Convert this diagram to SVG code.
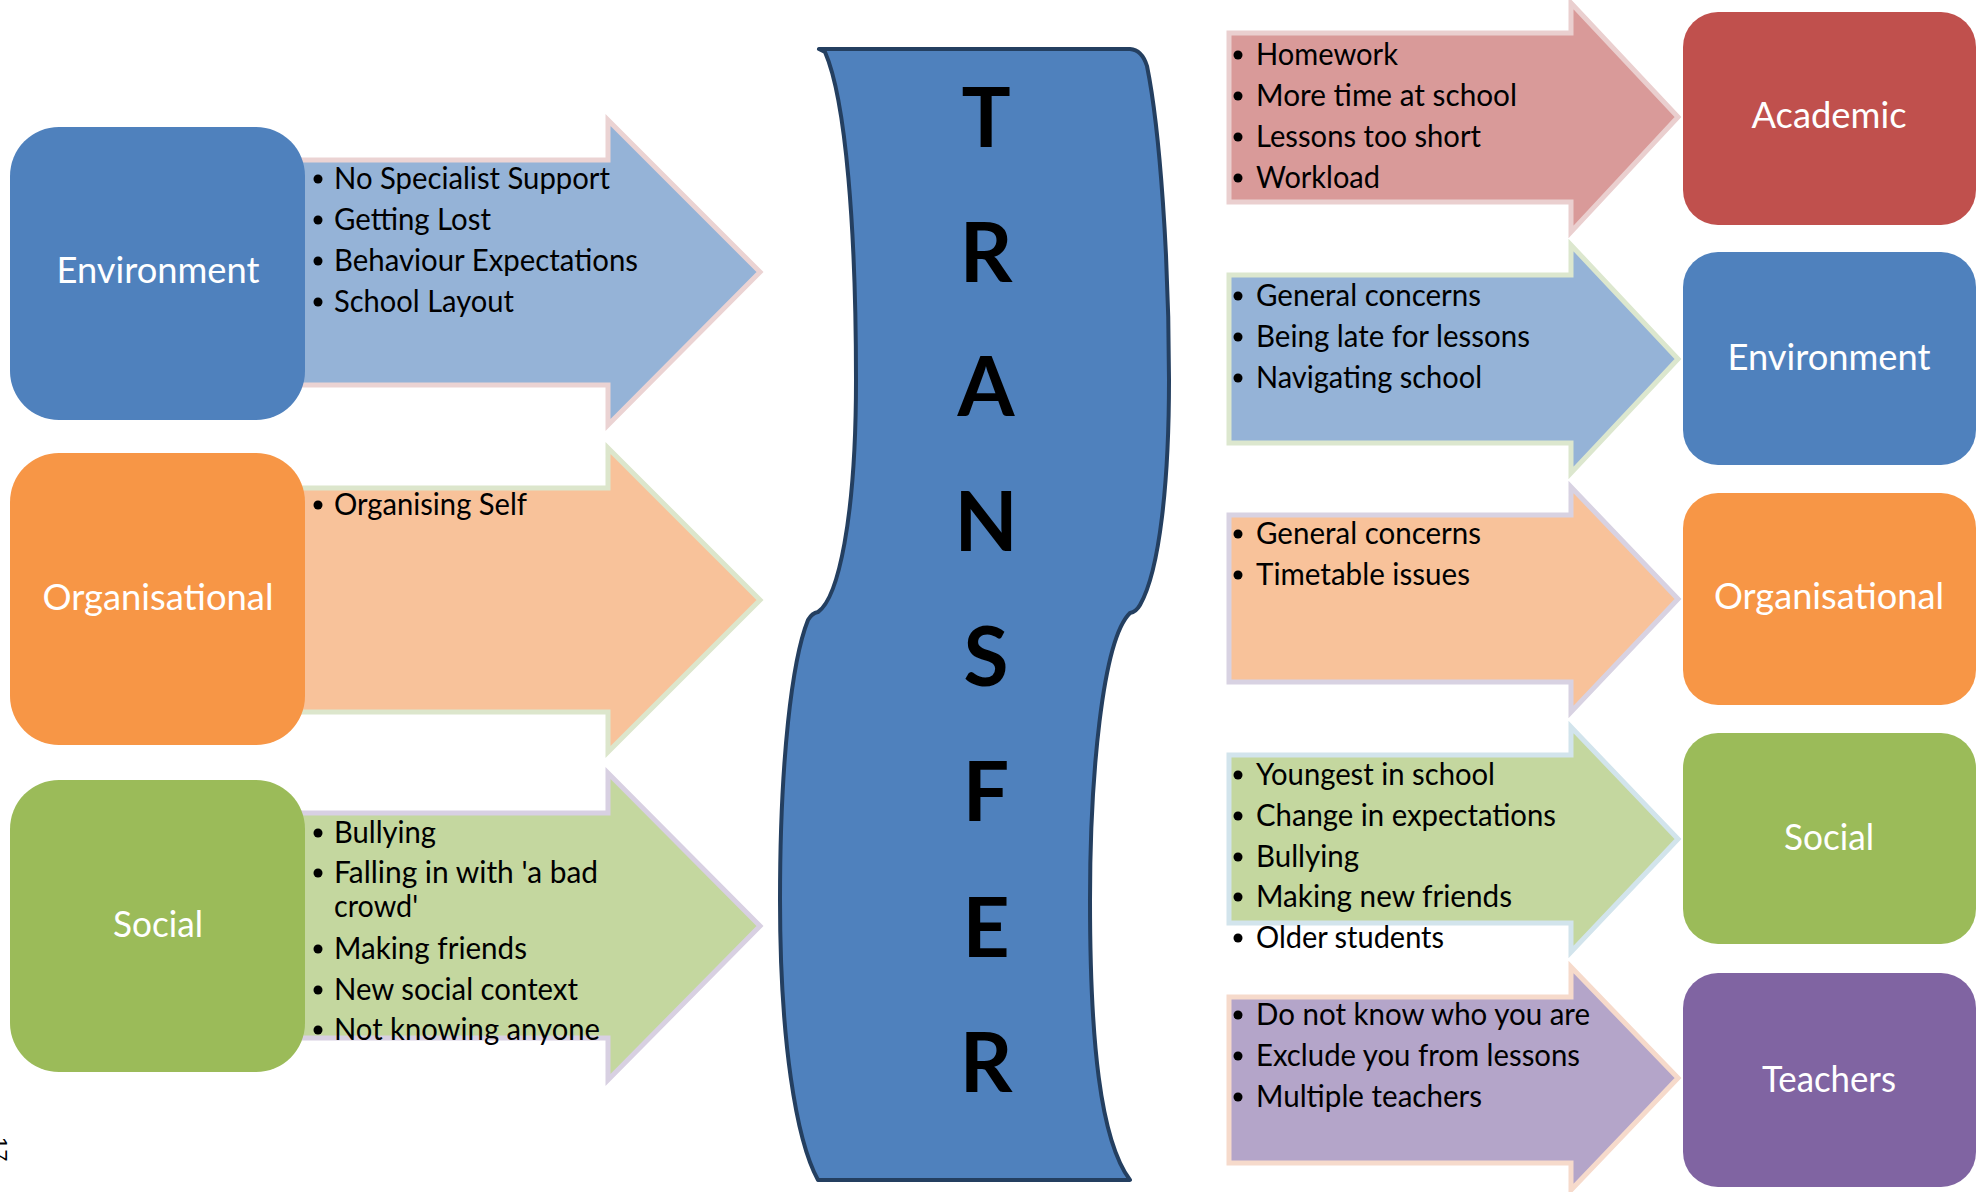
<svg xmlns="http://www.w3.org/2000/svg" width="1977" height="1192" viewBox="0 0 1977 1192">
<style>
.lbl{font-family:Lato,"Liberation Sans",sans-serif;font-size:36px;fill:#FFFFFF;text-anchor:middle}
.bt{font-family:Lato,"Liberation Sans",sans-serif;font-size:30px;fill:#000000}
.big{font-family:Lato,"Liberation Sans",sans-serif;font-size:82px;font-weight:bold;fill:#000000;text-anchor:middle}
.dot{fill:#000000}
.arr{stroke-width:5;stroke-linejoin:miter}
</style>
<rect x="0" y="0" width="1977" height="1192" fill="#FFFFFF"/>

<!-- Left arrows -->
<g id="arrow-left-environment">
<polygon class="arr" points="298,160 608,160 608,120 760,272 608,425 608,385 298,385" fill="#95B3D7" stroke="#EBD3D3"/>
<circle class="dot" cx="318" cy="179" r="4.5"/><text class="bt" x="334" y="189" textLength="276" lengthAdjust="spacingAndGlyphs">No Specialist Support</text>
<circle class="dot" cx="318" cy="220" r="4.5"/><text class="bt" x="334" y="230" textLength="157" lengthAdjust="spacingAndGlyphs">Getting Lost</text>
<circle class="dot" cx="318" cy="261" r="4.5"/><text class="bt" x="334" y="271" textLength="304" lengthAdjust="spacingAndGlyphs">Behaviour Expectations</text>
<circle class="dot" cx="318" cy="302" r="4.5"/><text class="bt" x="334" y="312" textLength="180" lengthAdjust="spacingAndGlyphs">School Layout</text>
</g>
<g id="arrow-left-organisational">
<polygon class="arr" points="298,488 608,488 608,448 760,600 608,752 608,712 298,712" fill="#F8C29A" stroke="#DCE6CC"/>
<circle class="dot" cx="318" cy="505" r="4.5"/><text class="bt" x="334" y="515" textLength="193" lengthAdjust="spacingAndGlyphs">Organising Self</text>
</g>
<g id="arrow-left-social">
<polygon class="arr" points="298,813 608,813 608,773 760,926 608,1080 608,1038 298,1038" fill="#C4D79F" stroke="#D8D0E2"/>
<circle class="dot" cx="318" cy="833" r="4.5"/><text class="bt" x="334" y="843" textLength="102" lengthAdjust="spacingAndGlyphs">Bullying</text>
<circle class="dot" cx="318" cy="873" r="4.5"/><text class="bt" x="334" y="883" textLength="264" lengthAdjust="spacingAndGlyphs">Falling in with 'a bad</text>
<text class="bt" x="334" y="917" textLength="84" lengthAdjust="spacingAndGlyphs">crowd'</text>
<circle class="dot" cx="318" cy="949" r="4.5"/><text class="bt" x="334" y="959" textLength="193" lengthAdjust="spacingAndGlyphs">Making friends</text>
<circle class="dot" cx="318" cy="990" r="4.5"/><text class="bt" x="334" y="1000" textLength="244" lengthAdjust="spacingAndGlyphs">New social context</text>
<circle class="dot" cx="318" cy="1030" r="4.5"/><text class="bt" x="334" y="1040" textLength="266" lengthAdjust="spacingAndGlyphs">Not knowing anyone</text>
</g>

<!-- Left boxes -->
<g id="box-left-environment">
<rect x="10" y="127" width="295" height="293" rx="49" fill="#4F81BD"/>
<text class="lbl" x="158" y="283" textLength="203" lengthAdjust="spacingAndGlyphs">Environment</text>
</g>
<g id="box-left-organisational">
<rect x="10" y="453" width="295" height="292" rx="49" fill="#F79646"/>
<text class="lbl" x="158" y="610" textLength="231" lengthAdjust="spacingAndGlyphs">Organisational</text>
</g>
<g id="box-left-social">
<rect x="10" y="780" width="295" height="292" rx="49" fill="#9BBB59"/>
<text class="lbl" x="158" y="937" textLength="90" lengthAdjust="spacingAndGlyphs">Social</text>
</g>

<!-- Centre scroll -->
<g id="transfer">
<path d="M 819,49 L 1130,49 Q 1142,50 1147,66 C 1160,130 1169,260 1169,380 C 1169,480 1160,570 1140,605 Q 1136,612 1130,613 C 1102,640 1090,780 1090,900 C 1090,1040 1100,1140 1130,1180 L 818,1180 C 796,1140 780,1040 780,900 C 780,760 792,660 808,620 Q 812,613 818,612 C 838,598 856,520 856,380 C 856,230 846,100 825,52 Z" fill="#4F81BD" stroke="#243F60" stroke-width="4" stroke-linejoin="round"/>
<text class="big" x="986" y="147">T</text>
<text class="big" x="986" y="282">R</text>
<text class="big" x="986" y="416">A</text>
<text class="big" x="986" y="551">N</text>
<text class="big" x="986" y="686">S</text>
<text class="big" x="986" y="821">F</text>
<text class="big" x="986" y="957">E</text>
<text class="big" x="986" y="1092">R</text>
</g>

<!-- Right arrows -->
<g id="arrow-right-academic">
<polygon class="arr" points="1229,33 1571,33 1571,3 1678,117 1571,232 1571,202 1229,202" fill="#D99A99" stroke="#EACFCF"/>
<circle class="dot" cx="1238" cy="55" r="4.5"/><text class="bt" x="1256" y="65" textLength="142" lengthAdjust="spacingAndGlyphs">Homework</text>
<circle class="dot" cx="1238" cy="96" r="4.5"/><text class="bt" x="1256" y="106" textLength="261" lengthAdjust="spacingAndGlyphs">More time at school</text>
<circle class="dot" cx="1238" cy="137" r="4.5"/><text class="bt" x="1256" y="147" textLength="225" lengthAdjust="spacingAndGlyphs">Lessons too short</text>
<circle class="dot" cx="1238" cy="178" r="4.5"/><text class="bt" x="1256" y="188" textLength="124" lengthAdjust="spacingAndGlyphs">Workload</text>
</g>
<g id="arrow-right-environment">
<polygon class="arr" points="1229,275 1571,275 1571,245 1678,359 1571,473 1571,443 1229,443" fill="#95B3D7" stroke="#DCE7CE"/>
<circle class="dot" cx="1238" cy="296" r="4.5"/><text class="bt" x="1256" y="306" textLength="225" lengthAdjust="spacingAndGlyphs">General concerns</text>
<circle class="dot" cx="1238" cy="337" r="4.5"/><text class="bt" x="1256" y="347" textLength="274" lengthAdjust="spacingAndGlyphs">Being late for lessons</text>
<circle class="dot" cx="1238" cy="378" r="4.5"/><text class="bt" x="1256" y="388" textLength="226" lengthAdjust="spacingAndGlyphs">Navigating school</text>
</g>
<g id="arrow-right-organisational">
<polygon class="arr" points="1229,515 1571,515 1571,487 1678,599 1571,712 1571,682 1229,682" fill="#F8C29A" stroke="#D8D2E2"/>
<circle class="dot" cx="1238" cy="534" r="4.5"/><text class="bt" x="1256" y="544" textLength="225" lengthAdjust="spacingAndGlyphs">General concerns</text>
<circle class="dot" cx="1238" cy="575" r="4.5"/><text class="bt" x="1256" y="585" textLength="214" lengthAdjust="spacingAndGlyphs">Timetable issues</text>
</g>
<g id="arrow-right-social">
<polygon class="arr" points="1229,755 1571,755 1571,727 1678,839 1571,952 1571,923 1229,923" fill="#C4D79F" stroke="#D2E4EC"/>
<circle class="dot" cx="1238" cy="775" r="4.5"/><text class="bt" x="1256" y="785" textLength="239" lengthAdjust="spacingAndGlyphs">Youngest in school</text>
<circle class="dot" cx="1238" cy="816" r="4.5"/><text class="bt" x="1256" y="826" textLength="300" lengthAdjust="spacingAndGlyphs">Change in expectations</text>
<circle class="dot" cx="1238" cy="857" r="4.5"/><text class="bt" x="1256" y="867" textLength="103" lengthAdjust="spacingAndGlyphs">Bullying</text>
<circle class="dot" cx="1238" cy="897" r="4.5"/><text class="bt" x="1256" y="907" textLength="256" lengthAdjust="spacingAndGlyphs">Making new friends</text>
<circle class="dot" cx="1238" cy="938" r="4.5"/><text class="bt" x="1256" y="948" textLength="188" lengthAdjust="spacingAndGlyphs">Older students</text>
</g>
<g id="arrow-right-teachers">
<polygon class="arr" points="1229,997 1571,997 1571,967 1678,1078 1571,1190 1571,1163 1229,1163" fill="#B4A5C9" stroke="#F6DACB"/>
<circle class="dot" cx="1238" cy="1015" r="4.5"/><text class="bt" x="1256" y="1025" textLength="334" lengthAdjust="spacingAndGlyphs">Do not know who you are</text>
<circle class="dot" cx="1238" cy="1056" r="4.5"/><text class="bt" x="1256" y="1066" textLength="324" lengthAdjust="spacingAndGlyphs">Exclude you from lessons</text>
<circle class="dot" cx="1238" cy="1097" r="4.5"/><text class="bt" x="1256" y="1107" textLength="226" lengthAdjust="spacingAndGlyphs">Multiple teachers</text>
</g>

<!-- Right boxes -->
<g id="box-right-academic">
<rect x="1683" y="12" width="293" height="213" rx="35" fill="#C0504D"/>
<text class="lbl" x="1829" y="128" textLength="155" lengthAdjust="spacingAndGlyphs">Academic</text>
</g>
<g id="box-right-environment">
<rect x="1683" y="252" width="293" height="213" rx="35" fill="#4F81BD"/>
<text class="lbl" x="1829" y="370" textLength="203" lengthAdjust="spacingAndGlyphs">Environment</text>
</g>
<g id="box-right-organisational">
<rect x="1683" y="493" width="293" height="212" rx="35" fill="#F79646"/>
<text class="lbl" x="1829" y="609" textLength="230" lengthAdjust="spacingAndGlyphs">Organisational</text>
</g>
<g id="box-right-social">
<rect x="1683" y="733" width="293" height="211" rx="35" fill="#9BBB59"/>
<text class="lbl" x="1829" y="850" textLength="90" lengthAdjust="spacingAndGlyphs">Social</text>
</g>
<g id="box-right-teachers">
<rect x="1683" y="973" width="293" height="214" rx="35" fill="#8064A2"/>
<text class="lbl" x="1829" y="1092" textLength="134" lengthAdjust="spacingAndGlyphs">Teachers</text>
</g>

<g id="connectors"></g>

<text x="0" y="0" transform="translate(-8,1137) rotate(90)" font-family="'Liberation Sans',sans-serif" font-size="22" fill="#000000">17</text>
</svg>
